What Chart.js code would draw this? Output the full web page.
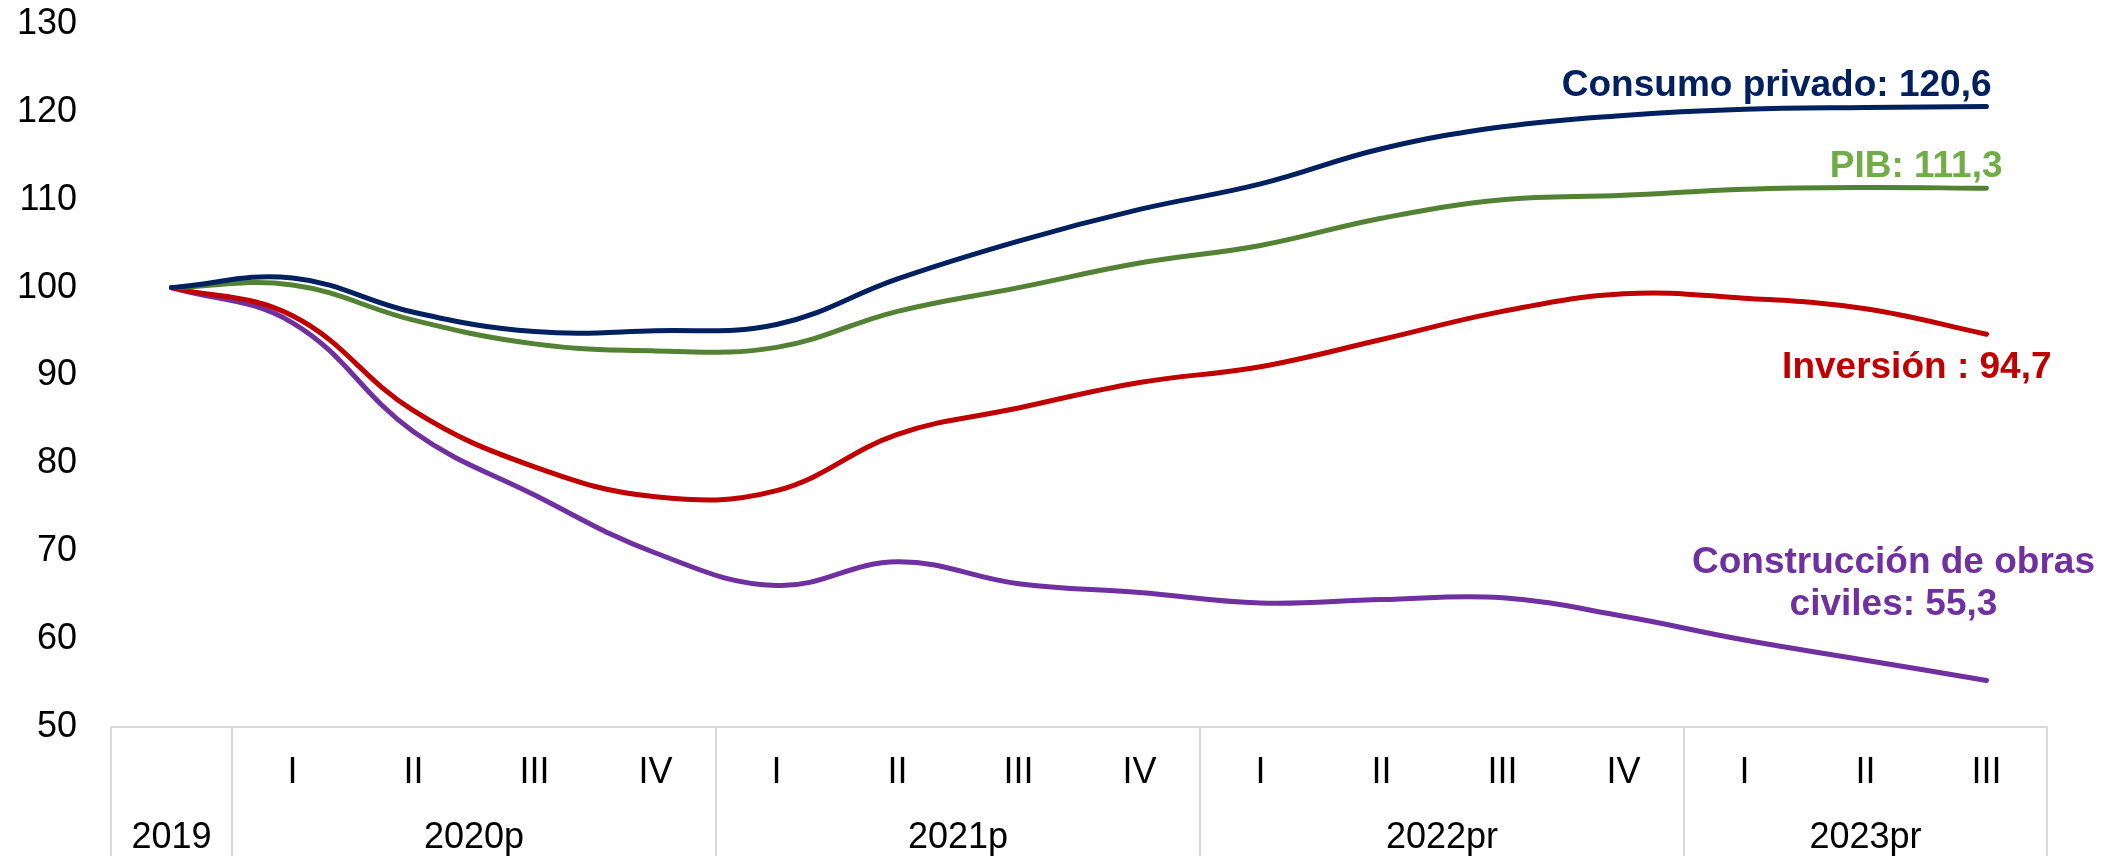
<!DOCTYPE html>
<html>
<head>
<meta charset="utf-8">
<script src="https://cdn.jsdelivr.net/npm/chart.js@4/dist/chart.umd.min.js"></script>
<style>
  html, body { margin: 0; padding: 0; background: #fff; }
  #wrap { width: 2119px; height: 856px; }
</style>
</head>
<body>
<div id="wrap"><canvas id="c"></canvas></div>
<script>
// quarters, with 2019 as the base year (no quarter label)
const quarters = ["", "I", "II", "III", "IV", "I", "II", "III", "IV", "I", "II", "III", "IV", "I", "II", "III"];
const years = ["2019", "2020p", "2021p", "2022pr", "2023pr"];
const yearSizes = [1, 4, 4, 4, 3];

const consumo = [100, 101.1, 97.2, 95.0, 95.1, 95.8, 101.0, 105.3, 108.9, 111.8, 115.8, 118.3, 119.6, 120.3, 120.5, 120.6];
const pib = [100, 100.3, 96.3, 93.6, 92.8, 93.2, 97.3, 100.0, 102.8, 104.8, 107.9, 110.0, 110.5, 111.2, 111.4, 111.3];
const inversion = [100, 96.8, 86.0, 79.6, 76.2, 76.9, 83.3, 86.3, 89.2, 91.0, 94.1, 97.3, 99.3, 98.8, 97.6, 94.7];
const construccion = [100, 96.0, 83.6, 76.4, 69.8, 66.1, 68.8, 66.3, 65.3, 64.1, 64.5, 64.7, 62.6, 59.9, 57.6, 55.3];

const yTicks = [50, 60, 70, 80, 90, 100, 110, 120, 130];

// end-of-line labels: text lines, colour, and where they sit relative to the last point
const endLabels = [
  { lines: ["Consumo privado: 120,6"], color: "#002060", align: "right", dx: 5, dy: -11 },
  { lines: ["PIB: 111,3"], color: "#70AD47", align: "right", dx: 16, dy: -11 },
  { lines: ["Inversión : 94,7"], color: "#C00000", align: "right", dx: 65, dy: 44 },
  { lines: ["Construcción de obras", "civiles: 55,3"], color: "#7030A0", align: "center", dx: -93, dy: -107 }
];

const FONT = "'Liberation Sans', Arial, sans-serif";

// x-axis box: separators between years and the year row underneath
const yearAxis = {
  id: "yearAxis",
  afterDraw(chart) {
    const { ctx, chartArea, scales: { x } } = chart;
    const bottom = chart.height;
    const half = (x.getPixelForValue(1) - x.getPixelForValue(0)) / 2;
    ctx.save();
    ctx.strokeStyle = "#d9d9d9";
    ctx.lineWidth = 2;
    ctx.beginPath();
    ctx.moveTo(chartArea.left, chartArea.bottom);
    ctx.lineTo(chartArea.right, chartArea.bottom);
    ctx.stroke();

    ctx.font = "36px " + FONT;
    ctx.fillStyle = "#000";
    ctx.textAlign = "center";
    ctx.textBaseline = "middle";
    let start = 0;
    years.forEach((yr, k) => {
      const end = start + yearSizes[k] - 1;
      const x0 = x.getPixelForValue(start) - half;
      ctx.beginPath();
      ctx.moveTo(x0, chartArea.bottom);
      ctx.lineTo(x0, bottom);
      ctx.stroke();
      const mid = (x.getPixelForValue(start) + x.getPixelForValue(end)) / 2;
      ctx.fillText(yr, mid, 838);
      start = end + 1;
    });
    const xr = x.getPixelForValue(quarters.length - 1) + half;
    ctx.beginPath();
    ctx.moveTo(xr, chartArea.bottom);
    ctx.lineTo(xr, bottom);
    ctx.stroke();
    ctx.restore();
  }
};

const lineLabels = {
  id: "lineLabels",
  afterDatasetsDraw(chart) {
    const { ctx } = chart;
    ctx.save();
    ctx.font = "bold 37px " + FONT;
    ctx.textBaseline = "alphabetic";
    endLabels.forEach((lab, i) => {
      const meta = chart.getDatasetMeta(i);
      const last = meta.data[meta.data.length - 1];
      ctx.fillStyle = lab.color;
      ctx.textAlign = lab.align;
      lab.lines.forEach((t, j) => {
        ctx.fillText(t, last.x + lab.dx, last.y + lab.dy + j * 42);
      });
    });
    ctx.restore();
  }
};

function series(label, data, color) {
  return {
    label, data,
    borderColor: color,
    borderWidth: 5,
    borderCapStyle: "round",
    pointRadius: 0,
    tension: 0.4,
    fill: false
  };
}

new Chart(document.getElementById("c"), {
  type: "line",
  data: {
    labels: quarters,
    datasets: [
      series("Consumo privado", consumo, "#002060"),
      series("PIB", pib, "#548235"),
      series("Inversión", inversion, "#C00000"),
      series("Construcción de obras civiles", construccion, "#7030A0")
    ]
  },
  options: {
    responsive: true,
    maintainAspectRatio: false,
    animation: false,
    layout: { padding: { top: 24, right: 72, left: 0, bottom: 0 } },
    plugins: { legend: { display: false }, tooltip: { enabled: false } },
    scales: {
      x: {
        offset: true,
        grid: { display: false, drawTicks: false },
        border: { display: false },
        ticks: { color: "#000", font: { family: FONT, size: 36 }, padding: 24, maxRotation: 0, autoSkip: false },
        afterFit(scale) { scale.height = 129; scale.paddingLeft = 0; scale.paddingRight = 0; }
      },
      y: {
        min: 50,
        max: 130,
        afterBuildTicks(scale) { scale.ticks = yTicks.map(v => ({ value: v })); },
        grid: { display: false, drawTicks: false },
        border: { display: false },
        ticks: { color: "#000", font: { family: FONT, size: 36 }, padding: 34 },
        afterFit(scale) { scale.width = 111; scale.paddingTop = 0; scale.paddingBottom = 0; }
      }
    }
  },
  plugins: [yearAxis, lineLabels]
});
</script>
</body>
</html>
